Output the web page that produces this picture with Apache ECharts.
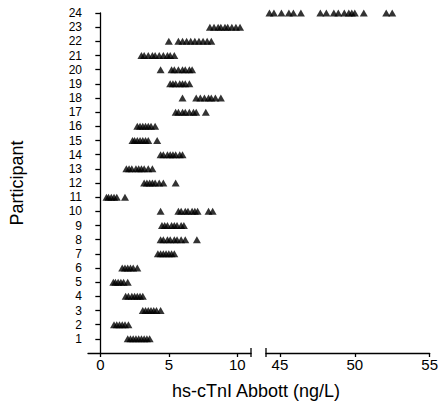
<!DOCTYPE html>
<html><head><meta charset="utf-8">
<script src="https://cdn.jsdelivr.net/npm/echarts@6/dist/echarts.min.js"></script>
<style>html,body{margin:0;padding:0;background:#fff}#c{width:441px;height:408px}</style>
</head><body><div id="c"></div>
<script>
// hs-cTnI readings (ng/L) per participant
const p01 = [2.0, 2.2, 2.4, 2.6, 2.8, 3.0, 3.2, 3.4, 3.6];
const p02 = [1.0, 1.2, 1.4, 1.6, 1.8, 2.05];
const p03 = [3.1, 3.3, 3.5, 3.7, 3.9, 4.1, 4.4];
const p04 = [1.85, 2.05, 2.3, 2.5, 2.7, 2.9, 3.1];
const p05 = [0.95, 1.1, 1.3, 1.5, 1.7, 2.0];
const p06 = [1.6, 1.8, 2.0, 2.2, 2.4, 2.7];
const p07 = [4.2, 4.4, 4.6, 4.8, 5.0, 5.2, 5.4];
const p08 = [4.4, 4.6, 4.9, 5.1, 5.4, 5.6, 5.9, 6.2, 7.05];
const p09 = [4.5, 4.7, 4.9, 5.2, 5.4, 5.6, 5.9, 6.1];
const p10 = [4.4, 5.7, 5.9, 6.2, 6.4, 6.7, 6.9, 7.1, 7.9, 8.2];
const p11 = [0.45, 0.6, 0.8, 1.0, 1.2, 1.8];
const p12 = [3.2, 3.4, 3.6, 3.8, 4.0, 4.3, 4.6, 5.5];
const p13 = [1.9, 2.1, 2.3, 2.6, 2.8, 3.0, 3.2, 3.5, 3.8];
const p14 = [4.4, 4.6, 4.9, 5.1, 5.3, 5.5, 5.8, 6.0];
const p15 = [2.35, 2.5, 2.7, 2.9, 3.1, 3.3, 3.5, 4.15];
const p16 = [2.7, 2.9, 3.1, 3.3, 3.5, 3.7, 4.0];
const p17 = [5.5, 5.7, 6.0, 6.2, 6.5, 6.8, 7.0, 7.7];
const p18 = [6.0, 7.0, 7.3, 7.6, 7.9, 8.1, 8.4, 8.8];
const p19 = [5.1, 5.3, 5.5, 5.8, 6.0, 6.2, 6.5];
const p20 = [4.4, 5.2, 5.4, 5.7, 6.0, 6.2, 6.5, 6.7];
const p21 = [3.0, 3.2, 3.5, 3.8, 4.0, 4.3, 4.6, 4.9, 5.1, 5.4];
const p22 = [5.0, 5.7, 6.0, 6.3, 6.6, 6.9, 7.2, 7.5, 7.8, 8.1];
const p23 = [8.0, 8.3, 8.6, 8.8, 9.1, 9.3, 9.6, 9.9, 10.2];
const p24 = [44.3, 44.6, 45.1, 45.6, 45.9, 46.4, 47.7, 48.1, 48.6, 48.9, 49.3, 49.6, 49.8, 50.0, 50.6, 52.1, 52.5];

const participants = [p01,p02,p03,p04,p05,p06,p07,p08,p09,p10,p11,p12,p13,p14,p15,p16,p17,p18,p19,p20,p21,p22,p23,p24];
const yTicks = [1,2,3,4,5,6,7,8,9,10,11,12,13,14,15,16,17,18,19,20,21,22,23,24];
const xTicksLow = [0, 5, 10];
const xTicksHigh = [45, 50, 55];
const xTitle = 'hs-cTnI Abbott (ng/L)';
const yTitle = 'Participant';

const lowPts = [], highPts = [];
participants.forEach((vals, i) => {
  vals.forEach(v => { (v > 30 ? highPts : lowPts).push([v, i + 1]); });
});

const FONT = 'Liberation Sans, Arial, sans-serif';
const axisLineStyle = { color: '#000', width: 1.3 };
const chart = echarts.init(document.getElementById('c'), null, { renderer: 'svg' });
chart.setOption({
  animation: false,
  grid: [
    { left: 88, width: 163, top: 13, bottom: 55 },
    { left: 266, width: 164, top: 13, bottom: 55 }
  ],
  xAxis: [
    { gridIndex: 0, type: 'value', min: -0.9, max: 11.0,
      axisLine: { show: true, lineStyle: axisLineStyle },
      axisTick: { show: true, length: 4, customValues: xTicksLow, lineStyle: axisLineStyle },
      axisLabel: { customValues: xTicksLow, margin: 4, fontSize: 15, color: '#000', fontFamily: FONT },
      splitLine: { show: false } },
    { gridIndex: 1, type: 'value', min: 44.07, max: 55,
      axisLine: { show: true, lineStyle: axisLineStyle },
      axisTick: { show: true, length: 4, customValues: xTicksHigh, lineStyle: axisLineStyle },
      axisLabel: { customValues: xTicksHigh, margin: 4, fontSize: 15, color: '#000', fontFamily: FONT },
      splitLine: { show: false } }
  ],
  yAxis: [
    { gridIndex: 0, type: 'value', min: 0, max: 24,
      name: yTitle, nameLocation: 'middle', nameGap: 62, nameRotate: 90,
      nameTextStyle: { fontSize: 18, color: '#000', fontFamily: FONT },
      axisLine: { show: true, lineStyle: axisLineStyle },
      axisTick: { show: true, length: 5, customValues: yTicks, lineStyle: axisLineStyle },
      axisLabel: { customValues: yTicks, margin: 6, fontSize: 12, color: '#000', fontFamily: FONT },
      splitLine: { show: false } },
    { gridIndex: 1, type: 'value', min: 0, max: 24, show: false }
  ],
  graphic: [
    { type: 'line', shape: { x1: 251, y1: 348, x2: 251, y2: 357 }, style: { stroke: '#000', lineWidth: 1.3 } },
    { type: 'line', shape: { x1: 266, y1: 348, x2: 266, y2: 357 }, style: { stroke: '#000', lineWidth: 1.3 } },
    { type: 'text', left: 172, top: 382, style: { text: xTitle, fontSize: 18, fill: '#000', fontFamily: FONT } }
  ],
  series: [
    { type: 'scatter', xAxisIndex: 0, yAxisIndex: 0, data: lowPts, symbol: 'triangle', symbolSize: [8, 7],
      itemStyle: { color: '#000' } },
    { type: 'scatter', xAxisIndex: 1, yAxisIndex: 1, data: highPts, symbol: 'triangle', symbolSize: [8, 7],
      itemStyle: { color: '#000' } }
  ]
});
</script></body></html>
